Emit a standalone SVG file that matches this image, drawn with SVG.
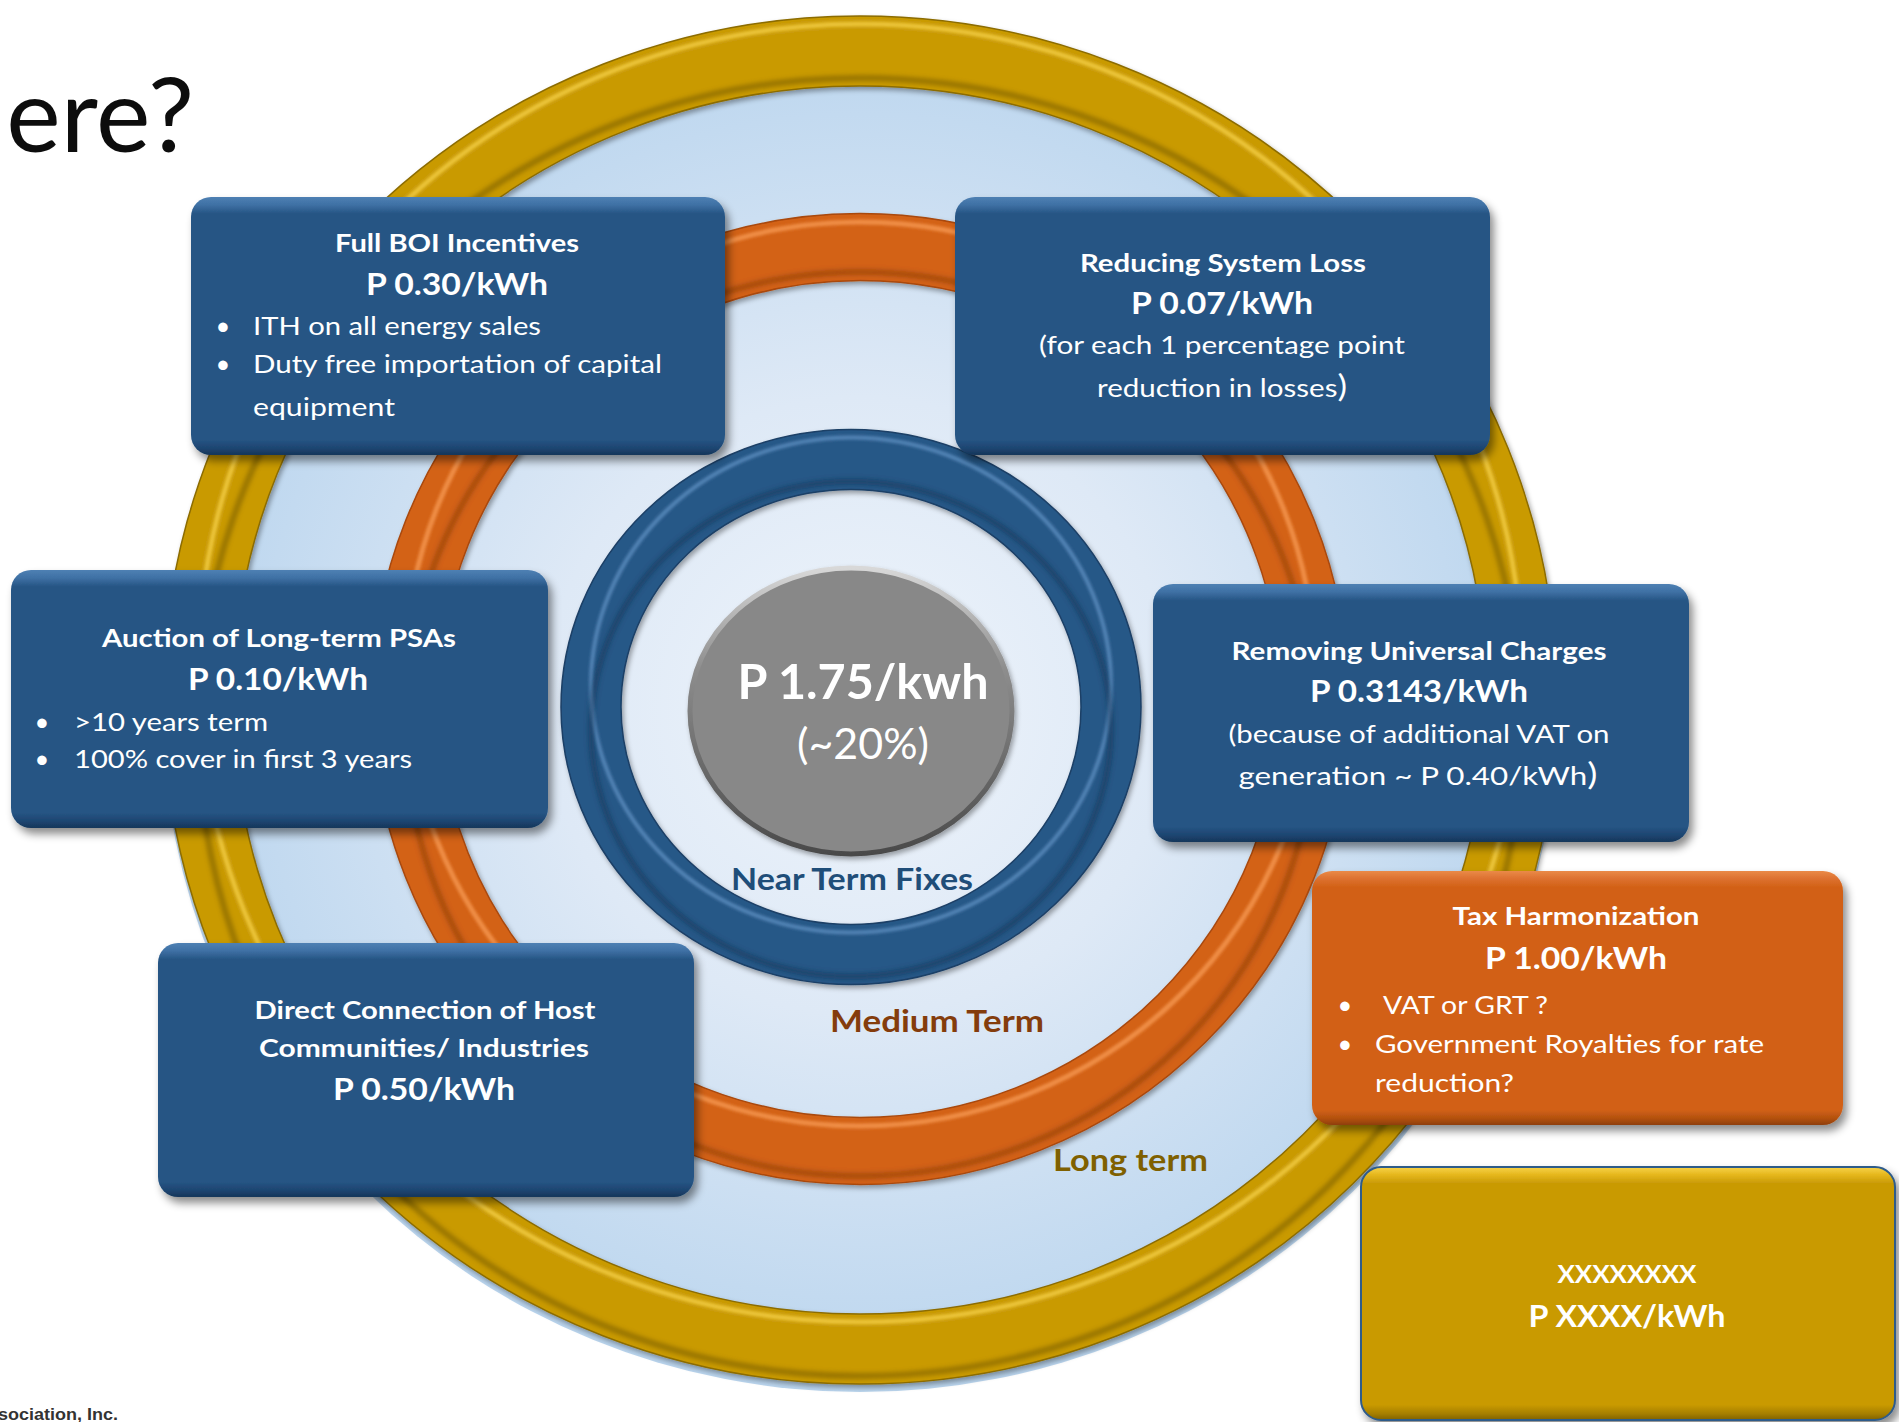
<svg xmlns="http://www.w3.org/2000/svg" width="1899" height="1422" viewBox="0 0 1899 1422">
<defs>
<style>
text{font-family:Lato,"Open Sans","Liberation Sans",sans-serif;}
.b{font-weight:700;}
.ttl{font-size:25.5px;font-weight:700;fill:#fff;}
.pr{font-size:30px;font-weight:700;fill:#fff;}
.bd{font-size:25.5px;font-weight:400;fill:#fff;}
.mid{text-anchor:middle;}
.big{font-size:31px;}
</style>
<radialGradient id="disc" cx="0.5" cy="0.5" r="0.5">
<stop offset="0" stop-color="#EEF4FB"/>
<stop offset="0.45" stop-color="#DEE9F6"/>
<stop offset="1" stop-color="#BAD5EE"/>
</radialGradient>
<linearGradient id="gBlue" x1="0" y1="0" x2="0" y2="1">
<stop offset="0" stop-color="#4E80B3"/>
<stop offset="0.03" stop-color="#3F71A5"/>
<stop offset="0.065" stop-color="#265584"/>
<stop offset="0.94" stop-color="#265584"/>
<stop offset="0.975" stop-color="#1D4470"/>
<stop offset="1" stop-color="#163659"/>
</linearGradient>
<linearGradient id="gOrange" x1="0" y1="0" x2="0" y2="1">
<stop offset="0" stop-color="#EA8A48"/>
<stop offset="0.03" stop-color="#DD7130"/>
<stop offset="0.065" stop-color="#D26116"/>
<stop offset="0.94" stop-color="#D26116"/>
<stop offset="0.975" stop-color="#B2500F"/>
<stop offset="1" stop-color="#8E3F0A"/>
</linearGradient>
<linearGradient id="gGold" x1="0" y1="0" x2="0" y2="1">
<stop offset="0" stop-color="#F7D34A"/>
<stop offset="0.03" stop-color="#E6B81E"/>
<stop offset="0.065" stop-color="#C99A06"/>
<stop offset="0.94" stop-color="#C99A06"/>
<stop offset="0.975" stop-color="#A67F02"/>
<stop offset="1" stop-color="#7F6100"/>
</linearGradient>
<linearGradient id="gGrayRim" x1="0" y1="0" x2="0" y2="1">
<stop offset="0" stop-color="#D8D8D8"/>
<stop offset="0.35" stop-color="#8E8E8E"/>
<stop offset="1" stop-color="#4A4A4A"/>
</linearGradient>
<filter id="shadow" x="-10%" y="-10%" width="125%" height="130%">
<feDropShadow dx="4" dy="6" stdDeviation="4" flood-color="#000" flood-opacity="0.45"/>
</filter>
<filter id="ringShadow" x="-5%" y="-5%" width="112%" height="112%">
<feDropShadow dx="2" dy="3" stdDeviation="2.5" flood-color="#000" flood-opacity="0.35"/>
</filter>
<filter id="soft" x="-5%" y="-5%" width="110%" height="110%">
<feGaussianBlur stdDeviation="1.6"/>
</filter>
<filter id="softer" x="-5%" y="-5%" width="110%" height="110%">
<feGaussianBlur stdDeviation="2.6"/>
</filter>
</defs>

<rect x="0" y="0" width="1899" height="1422" fill="#ffffff"/>

<g id="title">
<text x="194" y="152" text-anchor="end" font-size="103" fill="#0D0D0D">here?</text>
</g>

<g id="disc">
<ellipse cx="860" cy="706" rx="698" ry="686" fill="url(#disc)"/>
</g>

<g id="ring-long-term" filter="url(#ringShadow)">
<ellipse cx="860" cy="700" rx="662" ry="649" fill="none" stroke="#C99A06" stroke-width="70"/>
<ellipse cx="860" cy="673" rx="662" ry="649" fill="none" stroke="#F4CF45" stroke-width="5" opacity="0.8" filter="url(#soft)"/>
<ellipse cx="860" cy="727" rx="662" ry="649" fill="none" stroke="#5E4700" stroke-width="5" opacity="0.55" filter="url(#softer)"/>
<ellipse cx="860" cy="700" rx="697" ry="684" fill="none" stroke="#8C6C00" stroke-width="1.5"/>
<ellipse cx="860" cy="700" rx="627" ry="614" fill="none" stroke="#8C6C00" stroke-width="1.5"/>
</g>

<g id="ring-medium-term" filter="url(#ringShadow)">
<ellipse cx="860" cy="699" rx="455" ry="452" fill="none" stroke="#D36217" stroke-width="67"/>
<ellipse cx="860" cy="674" rx="455" ry="452" fill="none" stroke="#F79A52" stroke-width="5" opacity="0.8" filter="url(#soft)"/>
<ellipse cx="860" cy="724" rx="455" ry="452" fill="none" stroke="#6E2E05" stroke-width="5" opacity="0.5" filter="url(#softer)"/>
<ellipse cx="860" cy="699" rx="488.5" ry="485.5" fill="none" stroke="#A9480C" stroke-width="1.5"/>
<ellipse cx="860" cy="699" rx="421.5" ry="418.5" fill="none" stroke="#A9480C" stroke-width="1.5"/>
</g>

<g id="ring-near-term" filter="url(#ringShadow)">
<ellipse cx="851" cy="707" rx="260" ry="247.5" fill="none" stroke="#275887" stroke-width="60"/>
<ellipse cx="851" cy="685" rx="260" ry="247.5" fill="none" stroke="#5F90C2" stroke-width="4" opacity="0.8" filter="url(#soft)"/>
<ellipse cx="851" cy="729" rx="260" ry="247.5" fill="none" stroke="#0F2A47" stroke-width="5" opacity="0.5" filter="url(#softer)"/>
<ellipse cx="851" cy="707" rx="290" ry="277.5" fill="none" stroke="#1B3F66" stroke-width="1.5"/>
<ellipse cx="851" cy="707" rx="230" ry="217.5" fill="none" stroke="#1B3F66" stroke-width="1.5"/>
</g>

<g id="center-total">
<ellipse cx="851" cy="711" rx="161" ry="143" fill="#888888" stroke="url(#gGrayRim)" stroke-width="5" filter="url(#ringShadow)"/>
<text class="b" x="863" y="699" text-anchor="middle" font-size="48" fill="#fff" textLength="251" lengthAdjust="spacingAndGlyphs">P 1.75/kwh</text>
<text x="863" y="759" text-anchor="middle" font-size="42" fill="#fff" textLength="132" lengthAdjust="spacingAndGlyphs">(~20%)</text>
</g>

<g id="labels">
<text class="b" x="852" y="890" text-anchor="middle" font-size="30" fill="#1F4E79" textLength="242" lengthAdjust="spacingAndGlyphs">Near Term Fixes</text>
<text class="b" x="830" y="1032" font-size="31" fill="#843C0C" textLength="214" lengthAdjust="spacingAndGlyphs">Medium Term</text>
<text class="b" x="1053" y="1171" font-size="30" fill="#7F6000" textLength="155" lengthAdjust="spacingAndGlyphs">Long term</text>
</g>

<g id="connectors"></g>

<g id="node-boi">
<rect x="191" y="197" width="534" height="258" rx="20" fill="url(#gBlue)" filter="url(#shadow)"/>
<text class="ttl mid" x="457" y="252" textLength="244" lengthAdjust="spacingAndGlyphs">Full BOI Incentives</text>
<text class="pr mid" x="457" y="295" textLength="182" lengthAdjust="spacingAndGlyphs">P 0.30/kWh</text>
<text class="bd mid" x="223" y="335">•</text>
<text class="bd" x="253" y="335" textLength="288" lengthAdjust="spacingAndGlyphs">ITH on all energy sales</text>
<text class="bd mid" x="223" y="373">•</text>
<text class="bd" x="253" y="373" textLength="409" lengthAdjust="spacingAndGlyphs">Duty free importation of capital</text>
<text class="bd" x="253" y="416" textLength="142" lengthAdjust="spacingAndGlyphs">equipment</text>
</g>

<g id="node-system-loss">
<rect x="955" y="197" width="535" height="258" rx="20" fill="url(#gBlue)" filter="url(#shadow)"/>
<text class="ttl mid" x="1223" y="272" textLength="286" lengthAdjust="spacingAndGlyphs">Reducing System Loss</text>
<text class="pr mid" x="1222" y="314" textLength="182" lengthAdjust="spacingAndGlyphs">P 0.07/kWh</text>
<text class="bd mid" x="1222" y="354" textLength="366" lengthAdjust="spacingAndGlyphs">(for each 1 percentage point</text>
<text class="bd mid" x="1222" y="397" textLength="250" lengthAdjust="spacingAndGlyphs">reduction in losses<tspan class="big">)</tspan></text>
</g>

<g id="node-auction">
<rect x="11" y="570" width="537" height="258" rx="20" fill="url(#gBlue)" filter="url(#shadow)"/>
<text class="ttl mid" x="279" y="647" textLength="354" lengthAdjust="spacingAndGlyphs">Auction of Long-term PSAs</text>
<text class="pr mid" x="278" y="690" textLength="180" lengthAdjust="spacingAndGlyphs">P 0.10/kWh</text>
<text class="bd mid" x="42" y="731">•</text>
<text class="bd" x="74" y="731" textLength="194" lengthAdjust="spacingAndGlyphs">&gt;10 years term</text>
<text class="bd mid" x="42" y="768">•</text>
<text class="bd" x="74" y="768" textLength="338" lengthAdjust="spacingAndGlyphs">100% cover in first 3 years</text>
</g>

<g id="node-universal-charges">
<rect x="1153" y="584" width="536" height="258" rx="20" fill="url(#gBlue)" filter="url(#shadow)"/>
<text class="ttl mid" x="1419" y="660" textLength="375" lengthAdjust="spacingAndGlyphs">Removing Universal Charges</text>
<text class="pr mid" x="1419" y="702" textLength="218" lengthAdjust="spacingAndGlyphs">P 0.3143/kWh</text>
<text class="bd mid" x="1419" y="743" textLength="381" lengthAdjust="spacingAndGlyphs">(because of additional VAT on</text>
<text class="bd mid" x="1418" y="785" textLength="359" lengthAdjust="spacingAndGlyphs">generation ~ P 0.40/kWh<tspan class="big">)</tspan></text>
</g>

<g id="node-tax">
<rect x="1312" y="871" width="531" height="254" rx="20" fill="url(#gOrange)" filter="url(#shadow)"/>
<text class="ttl mid" x="1576" y="925" textLength="247" lengthAdjust="spacingAndGlyphs">Tax Harmonization</text>
<text class="pr mid" x="1576" y="969" textLength="182" lengthAdjust="spacingAndGlyphs">P 1.00/kWh</text>
<text class="bd mid" x="1345" y="1014">•</text>
<text class="bd" x="1383" y="1014" textLength="165" lengthAdjust="spacingAndGlyphs">VAT or GRT ?</text>
<text class="bd mid" x="1345" y="1053">•</text>
<text class="bd" x="1375" y="1053" textLength="389" lengthAdjust="spacingAndGlyphs">Government Royalties for rate</text>
<text class="bd" x="1375" y="1092" textLength="139" lengthAdjust="spacingAndGlyphs">reduction?</text>
</g>

<g id="node-direct">
<rect x="158" y="943" width="536" height="254" rx="20" fill="url(#gBlue)" filter="url(#shadow)"/>
<text class="ttl mid" x="425" y="1019" textLength="341" lengthAdjust="spacingAndGlyphs">Direct Connection of Host</text>
<text class="ttl mid" x="424" y="1057" textLength="330" lengthAdjust="spacingAndGlyphs">Communities/ Industries</text>
<text class="pr mid" x="424" y="1100" textLength="182" lengthAdjust="spacingAndGlyphs">P 0.50/kWh</text>
</g>

<g id="node-xxxx">
<rect x="1361" y="1167" width="534" height="253" rx="20" fill="url(#gGold)" stroke="#2F5B8A" stroke-width="2" filter="url(#shadow)"/>
<text class="mid b" x="1627" y="1283" font-size="24" fill="#fff" textLength="139" lengthAdjust="spacingAndGlyphs">XXXXXXXX</text>
<text class="pr mid" x="1627" y="1327" font-size="29" textLength="197" lengthAdjust="spacingAndGlyphs">P XXXX/kWh</text>
</g>

<g id="footer">
<text x="-2" y="1420" font-size="17" font-weight="700" fill="#333333" style="font-family:'Liberation Sans',Arial,sans-serif" textLength="120" lengthAdjust="spacingAndGlyphs">sociation, Inc.</text>
</g>
</svg>
